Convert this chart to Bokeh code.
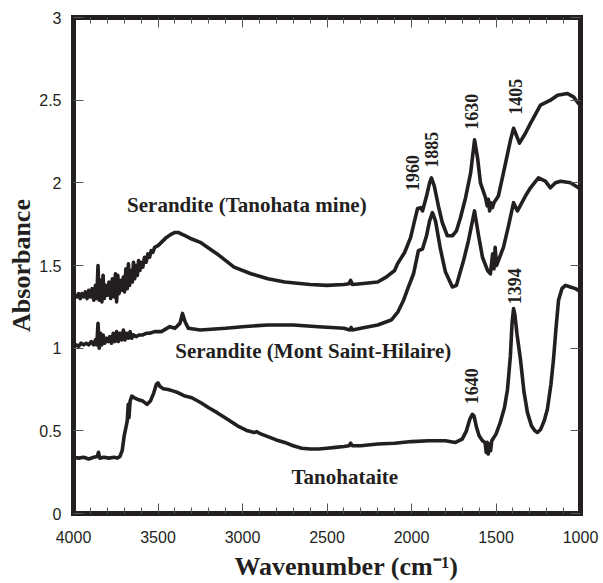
from bokeh.plotting import figure
from bokeh.models import Range1d, LinearAxis, FixedTicker, ColumnDataSource
from bokeh.embed import file_html
from bokeh.resources import INLINE
from bokeh.core.properties import value
import math

# ---------------- data (wavenumber cm-1, absorbance) ----------------
tanohata_mine = [
    (4000, 1.31), (3990, 1.32), (3980, 1.31), (3970, 1.33), (3960, 1.30), (3950, 1.33),
    (3940, 1.31), (3930, 1.34), (3920, 1.30), (3910, 1.35), (3900, 1.31), (3890, 1.36),
    (3880, 1.29), (3870, 1.38), (3862, 1.30), (3855, 1.50), (3848, 1.29), (3840, 1.41),
    (3832, 1.28), (3825, 1.44), (3818, 1.30), (3810, 1.38), (3800, 1.32), (3790, 1.40),
    (3780, 1.30), (3770, 1.42), (3760, 1.31), (3752, 1.45), (3745, 1.28), (3738, 1.44),
    (3730, 1.33), (3720, 1.41), (3712, 1.35), (3705, 1.43), (3698, 1.34), (3690, 1.48),
    (3682, 1.36), (3675, 1.51), (3668, 1.38), (3660, 1.47), (3652, 1.40), (3645, 1.52),
    (3638, 1.42), (3630, 1.50), (3622, 1.44), (3615, 1.53), (3607, 1.47), (3600, 1.52),
    (3590, 1.49), (3580, 1.55), (3570, 1.52), (3560, 1.57), (3550, 1.55), (3540, 1.59),
    (3530, 1.58), (3520, 1.61), (3500, 1.62), (3480, 1.64), (3450, 1.67), (3420, 1.69),
    (3400, 1.70), (3380, 1.70), (3360, 1.69), (3340, 1.68), (3300, 1.66), (3250, 1.64),
    (3150, 1.57), (3050, 1.49), (2950, 1.45), (2850, 1.42), (2750, 1.40), (2600, 1.385),
    (2500, 1.38), (2400, 1.385), (2370, 1.39), (2360, 1.41), (2350, 1.385), (2300, 1.39),
    (2200, 1.40), (2150, 1.43), (2100, 1.47), (2083, 1.51), (2040, 1.58), (2005, 1.67),
    (1982, 1.77), (1964, 1.845), (1946, 1.85), (1935, 1.83), (1911, 1.92), (1893, 2.00),
    (1882, 2.03), (1865, 1.98), (1841, 1.86), (1818, 1.76), (1788, 1.68), (1758, 1.68),
    (1734, 1.71), (1710, 1.79), (1680, 1.91), (1650, 2.06), (1627, 2.26), (1609, 2.15),
    (1592, 2.00), (1562, 1.91), (1552, 1.86), (1545, 1.90), (1538, 1.83), (1530, 1.88),
    (1521, 1.85), (1512, 1.88), (1486, 1.92), (1456, 2.06), (1414, 2.26), (1396, 2.33),
    (1361, 2.24), (1326, 2.30), (1296, 2.36), (1237, 2.47), (1178, 2.50), (1136, 2.53),
    (1077, 2.54), (1041, 2.52), (1012, 2.48), (1000, 2.47),
]

mont_saint_hilaire = [
    (4000, 1.01), (3985, 1.02), (3970, 1.01), (3955, 1.03), (3940, 1.02), (3925, 1.03),
    (3910, 1.02), (3895, 1.04), (3880, 1.02), (3870, 1.05), (3862, 1.02), (3855, 1.15),
    (3848, 1.00), (3840, 1.09), (3832, 1.02), (3825, 1.08), (3815, 1.03), (3805, 1.06),
    (3795, 1.04), (3785, 1.07), (3775, 1.03), (3765, 1.09), (3755, 1.04), (3745, 1.10),
    (3735, 1.04), (3725, 1.09), (3715, 1.05), (3705, 1.11), (3695, 1.05), (3685, 1.09),
    (3675, 1.06), (3665, 1.10), (3655, 1.06), (3645, 1.08), (3630, 1.07), (3610, 1.08),
    (3590, 1.08), (3570, 1.09), (3550, 1.09), (3520, 1.10), (3480, 1.10), (3430, 1.13),
    (3400, 1.12), (3370, 1.15), (3355, 1.21), (3340, 1.16), (3320, 1.12), (3250, 1.11),
    (3100, 1.12), (3000, 1.13), (2850, 1.14), (2700, 1.14), (2550, 1.13), (2400, 1.12),
    (2365, 1.11), (2357, 1.125), (2350, 1.11), (2300, 1.12), (2200, 1.14), (2120, 1.17),
    (2080, 1.22), (2047, 1.29), (2018, 1.37), (1988, 1.45), (1959, 1.59), (1935, 1.60),
    (1911, 1.68), (1893, 1.77), (1876, 1.82), (1858, 1.77), (1829, 1.60), (1799, 1.46),
    (1758, 1.37), (1734, 1.38), (1692, 1.53), (1663, 1.65), (1627, 1.83), (1603, 1.68),
    (1580, 1.55), (1550, 1.47), (1533, 1.45), (1520, 1.57), (1512, 1.48), (1505, 1.61),
    (1497, 1.50), (1456, 1.61), (1426, 1.74), (1396, 1.88), (1373, 1.83), (1326, 1.92),
    (1296, 1.97), (1249, 2.03), (1208, 2.01), (1178, 1.97), (1148, 2.00), (1118, 2.01),
    (1059, 2.00), (1012, 1.97), (1000, 1.96),
]

tanohataite = [
    (4000, 0.34), (3970, 0.335), (3940, 0.34), (3910, 0.33), (3880, 0.34), (3860, 0.345),
    (3852, 0.37), (3845, 0.335), (3820, 0.34), (3790, 0.335), (3760, 0.34), (3740, 0.335),
    (3725, 0.345), (3712, 0.38), (3700, 0.47), (3690, 0.52), (3682, 0.56), (3676, 0.66),
    (3672, 0.58), (3665, 0.68), (3655, 0.71), (3640, 0.70), (3620, 0.69), (3590, 0.68),
    (3565, 0.66), (3545, 0.68), (3525, 0.73), (3510, 0.78), (3500, 0.79), (3490, 0.77),
    (3470, 0.755), (3440, 0.75), (3408, 0.74), (3380, 0.73), (3340, 0.71), (3300, 0.70),
    (3246, 0.67), (3200, 0.64), (3150, 0.61), (3089, 0.57), (3030, 0.53), (2970, 0.50),
    (2930, 0.49), (2915, 0.495), (2900, 0.485), (2850, 0.465), (2800, 0.445), (2750, 0.43),
    (2700, 0.41), (2650, 0.395), (2600, 0.39), (2550, 0.39), (2500, 0.395), (2450, 0.40),
    (2400, 0.405), (2370, 0.41), (2360, 0.425), (2350, 0.41), (2300, 0.41), (2200, 0.42),
    (2100, 0.425), (2000, 0.435), (1900, 0.44), (1800, 0.44), (1740, 0.43), (1700, 0.45),
    (1675, 0.50), (1655, 0.57), (1640, 0.60), (1630, 0.59), (1615, 0.52), (1600, 0.47),
    (1580, 0.44), (1565, 0.43), (1558, 0.37), (1552, 0.43), (1546, 0.36), (1540, 0.42),
    (1532, 0.38), (1525, 0.44), (1500, 0.48), (1475, 0.55), (1450, 0.64), (1432, 0.75),
    (1415, 0.95), (1405, 1.15), (1396, 1.24), (1388, 1.20), (1375, 1.08), (1355, 0.93),
    (1335, 0.74), (1314, 0.61), (1290, 0.53), (1270, 0.50), (1255, 0.49), (1235, 0.51),
    (1215, 0.56), (1196, 0.63), (1175, 0.78), (1160, 0.93), (1145, 1.12), (1130, 1.29),
    (1110, 1.36), (1089, 1.38), (1060, 1.37), (1030, 1.36), (1012, 1.35), (1000, 1.35),
]

series_names = ["Serandite (Tanohata mine)", "Serandite (Mont Saint-Hilaire)", "Tanohataite"]
series_name_x = [2974, 2581, 2395]
series_name_y = [1.865, 0.98, 0.223]

peak_labels = ["1960", "1885", "1630", "1405", "1640", "1394"]
peak_label_x = [1993, 1883, 1646, 1386, 1644, 1392]
peak_label_y = [2.06, 2.20, 2.43, 2.52, 0.77, 1.375]

x_ticks = [4000, 3500, 3000, 2500, 2000, 1500, 1000]
x_tick_labels = ["4000", "3500", "3000", "2500", "2000", "1500", "1000"]
x_minor_ticks = list(range(1000, 4001, 100))
y_ticks = [0, 0.5, 1, 1.5, 2, 2.5, 3]
y_tick_labels = ["0", "0.5", "1", "1.5", "2", "2.5", "3"]

x_title = "\u2003\u2002Wavenumber (cm\u207b\u00b9)"
y_title = "Absorbance"

INK = "#231f20"
TICK = "#555555"
SERIF = "Liberation Serif"
SANS = "Liberation Sans"

p = figure(width=603, height=583, output_backend="svg", toolbar_location=None,
           x_range=Range1d(4000, 1000), y_range=Range1d(0, 3),
           min_border_left=73, min_border_right=23, min_border_top=17, min_border_bottom=69)
p.grid.visible = False
p.outline_line_color = INK
p.outline_line_width = 5
p.background_fill_color = "white"
p.border_fill_color = "white"


def xticker():
    return FixedTicker(ticks=x_ticks, minor_ticks=x_minor_ticks)


def yticker():
    return FixedTicker(ticks=y_ticks, minor_ticks=[])


def style_axis(ax):
    ax.axis_line_color = INK
    ax.axis_line_width = 5
    ax.axis_line_cap = "square"
    ax.major_tick_in = 10
    ax.major_tick_out = 0
    ax.minor_tick_in = 6
    ax.minor_tick_out = 0
    ax.major_tick_line_color = TICK
    ax.minor_tick_line_color = TICK


xa = p.xaxis[0]
xa.ticker = xticker()
xa.major_label_overrides = {t: l for t, l in zip(x_ticks, x_tick_labels)}
ya = p.yaxis[0]
ya.ticker = yticker()
ya.major_label_overrides = {t: l for t, l in zip(y_ticks, y_tick_labels)}
for ax in (xa, ya):
    style_axis(ax)
    ax.major_label_text_font = SANS
    ax.major_label_text_font_size = "16px"
    ax.major_label_text_color = INK
    ax.axis_label_text_font = SERIF
    ax.axis_label_text_font_style = "bold"
    ax.axis_label_text_font_size = "26px"
    ax.axis_label_text_color = INK
xa.major_label_standoff = 17
ya.major_label_standoff = 12
xa.axis_label = x_title
ya.axis_label = y_title
xa.axis_label_standoff = 6
ya.axis_label_standoff = 0
ya.minor_tick_line_color = None

top = LinearAxis(ticker=xticker(), major_label_text_font_size="1px",
                 major_label_text_color=None, major_label_standoff=0)
style_axis(top)
p.add_layout(top, "above")
right = LinearAxis(ticker=yticker(), major_label_text_font_size="1px",
                   major_label_text_color=None, major_label_standoff=0)
style_axis(right)
right.minor_tick_line_color = None
p.add_layout(right, "right")

for series in (tanohata_mine, mont_saint_hilaire, tanohataite):
    xs = [w for w, a in series]
    ys = [a for w, a in series]
    p.line(xs, ys, line_width=3.6, line_color=INK, line_join="round")

names_src = ColumnDataSource(dict(x=series_name_x, y=series_name_y, t=series_names))
p.text(x="x", y="y", text="t", source=names_src, text_font=value(SERIF),
       text_font_style="bold", text_font_size="21px", text_color=INK,
       text_align="center", text_baseline="middle")

peaks_src = ColumnDataSource(dict(x=peak_label_x, y=peak_label_y, t=peak_labels))
p.text(x="x", y="y", text="t", source=peaks_src, text_font=value(SERIF),
       text_font_style="bold", text_font_size="18px", text_color=INK,
       text_align="center", text_baseline="middle", angle=math.pi / 2)

open("out.html", "w").write(file_html(p, INLINE))
